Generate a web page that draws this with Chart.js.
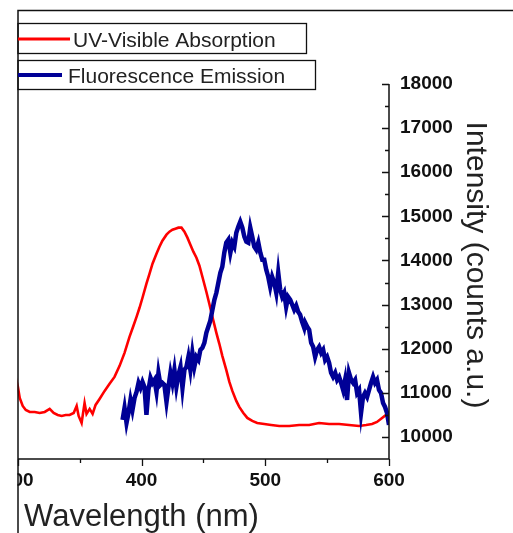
<!DOCTYPE html>
<html>
<head>
<meta charset="utf-8">
<script src="https://cdn.jsdelivr.net/npm/chart.js@4.4.1/dist/chart.umd.min.js"></script>
<style>
  html, body { margin: 0; padding: 0; background: #fff; }
  #wrap { position: relative; width: 513px; height: 533px; overflow: hidden; }
  #spectra { position: absolute; left: -120px; top: 0; }
</style>
</head>
<body>
<div id="wrap">
  <canvas id="spectra" width="633" height="533"></canvas>
</div>
<script>
// UV-Visible absorption (red) in right-axis units
const uvWavelength = [298.4, 300.0, 301.6, 304.0, 306.5, 309.7, 313.7, 317.7, 321.8, 325.8,
  329.0, 332.3, 335.5, 338.7, 341.9, 345.2, 347.6, 349.2, 351.6, 354.0,
  355.6, 358.1, 360.5, 362.9, 366.1, 370.2, 374.2, 378.2, 382.3, 386.3,
  390.3, 393.5, 396.0, 398.4, 400.8, 404.0, 406.5, 408.9, 412.1, 414.5,
  416.9, 420.2, 422.6, 425.0, 427.4, 429.8, 432.3, 434.7, 437.1, 439.5,
  441.9, 444.4, 446.8, 449.2, 452.4, 454.8, 457.3, 460.5, 462.9, 465.3,
  468.5, 471.0, 473.4, 476.6, 479.0, 482.3, 485.5, 489.5, 493.5, 499.2,
  504.8, 511.3, 519.4, 527.4, 535.5, 543.5, 551.6, 559.7, 567.7, 575.8,
  581.5, 586.3, 590.3, 594.4, 597.6, 600.0];
const uvIntensity = [11339, 11157, 10885, 10703, 10612, 10567, 10567, 10544, 10567, 10635,
  10544, 10499, 10476, 10499, 10499, 10544, 10703, 10476, 10317, 10771,
  10522, 10635, 10522, 10726, 10862, 11044, 11203, 11361, 11611, 11906,
  12269, 12519, 12723, 12928, 13155, 13473, 13700, 13927, 14154, 14312,
  14449, 14585, 14653, 14698, 14721, 14744, 14744, 14653, 14517, 14358,
  14199, 14063, 13881, 13631, 13291, 13019, 12723, 12360, 12111, 11838,
  11520, 11248, 11044, 10817, 10680, 10544, 10431, 10363, 10317, 10295,
  10272, 10249, 10249, 10272, 10272, 10317, 10295, 10295, 10272, 10249,
  10272, 10295, 10340, 10431, 10499, 10544];

// Fluorescence emission (blue)
const flWavelength = [384.7, 386.3, 387.9, 389.5, 391.1, 392.7, 394.4, 396.0, 397.6, 399.2,
  400.8, 402.4, 404.0, 405.6, 407.3, 408.9, 410.5, 412.1, 413.7, 415.3,
  416.9, 418.5, 420.2, 421.8, 423.4, 425.0, 426.6, 428.2, 429.8, 431.5,
  433.1, 434.7, 436.3, 437.9, 439.5, 441.1, 442.7, 444.4, 446.0, 447.6,
  449.2, 450.8, 452.4, 454.0, 455.6, 457.3, 458.9, 460.5, 462.1, 463.7,
  465.3, 466.9, 468.5, 470.2, 471.8, 473.4, 475.0, 476.6, 478.2, 479.8,
  481.5, 483.1, 484.7, 486.3, 487.9, 489.5, 491.1, 492.7, 494.4, 496.0,
  497.6, 499.2, 500.8, 502.4, 504.0, 505.6, 507.3, 508.9, 510.5, 512.1,
  513.7, 515.3, 516.9, 518.5, 520.2, 521.8, 523.4, 525.0, 526.6, 528.2,
  529.8, 531.5, 532.3, 533.9, 535.5, 537.1, 538.7, 540.3, 541.9, 543.5,
  545.2, 546.8, 548.4, 550.0, 551.6, 553.2, 554.8, 556.5, 558.1, 559.7,
  561.3, 562.9, 564.5, 566.1, 567.7, 569.4, 571.0, 572.6, 574.2, 575.8,
  577.4, 579.0, 580.6, 582.3, 583.9, 585.5, 587.1, 588.7, 590.3, 591.9,
  593.5, 595.2, 596.8, 598.4, 600.0];
const flIntensity = [10385, 10658, 10317, 10544, 10839, 10612, 10885, 11021, 11225, 11112,
  11248, 11134, 10499, 11066, 11339, 11225, 11293, 11021, 11452, 11180,
  11225, 11180, 10794, 11134, 11452, 11225, 11520, 11134, 11407, 11588,
  11112, 11520, 11588, 11815, 11520, 11906, 11588, 11815, 11747, 11974,
  12020, 12133, 12360, 12496, 12633, 12882, 13109, 13268, 13495, 13722,
  13858, 14176, 14403, 14471, 14176, 14403, 14312, 14630, 14766, 14880,
  14744, 14539, 14426, 14403, 14744, 14539, 14312, 14244, 14403, 14176,
  14017, 14017, 13790, 13631, 13404, 13631, 13495, 13268, 13722, 13336,
  13177, 13268, 12950, 13177, 13109, 12996, 12882, 12973, 12837, 12769,
  12610, 12473, 12587, 12496, 12428, 12133, 12042, 11815, 11974, 12042,
  11906, 11974, 11747, 11815, 11679, 11452, 11361, 11452, 11293, 11361,
  11225, 11066, 11293, 10839, 11452, 11293, 11225, 11293, 10998, 11066,
  10544, 10907, 10998, 10907, 11066, 11225, 11361, 11225, 11293, 11066,
  10998, 10771, 10680, 10544, 10272];

const xTicks = [200, 300, 400, 500, 600];
const xMinorTicks = [350, 450, 550];
const yTicks = [10000, 11000, 12000, 13000, 14000, 15000, 16000, 17000, 18000];
const yMinorTicks = [10500, 11500, 12500, 13500, 14500, 15500, 16500, 17500];
const yTitle = 'Intensity (counts a.u.)';

const toPoints = (xs, ys) => xs.map((v, i) => ({ x: v, y: ys[i] }));

// crop frame, axis lines, inward/outward ticks, y title and the boxed legend
const frame = {
  id: 'frame',
  beforeDraw(chart) {
    const ctx = chart.ctx;
    ctx.save();
    ctx.fillStyle = '#fff';
    ctx.fillRect(0, 0, chart.width, chart.height);
    ctx.restore();
  },
  afterDraw(chart) {
    const { ctx, chartArea: a, scales } = chart;
    const x = scales.x, y = scales.y;
    const edge = 138;
    ctx.save();
    ctx.fillStyle = '#fff';
    ctx.fillRect(0, 0, edge - 0.5, chart.height);

    ctx.strokeStyle = '#111';
    ctx.lineWidth = 1.5;
    ctx.beginPath();
    ctx.moveTo(edge, chart.height);
    ctx.lineTo(edge, 10.5);
    ctx.lineTo(chart.width, 10.5);
    ctx.moveTo(edge, a.bottom);
    ctx.lineTo(a.right, a.bottom);
    ctx.moveTo(a.right, a.top);
    ctx.lineTo(a.right, a.bottom);
    ctx.stroke();

    ctx.lineWidth = 1.3;
    ctx.beginPath();
    xTicks.concat(xMinorTicks).forEach(v => {
      if (v < 300) return;
      const px = Math.round(x.getPixelForValue(v)) + 0.5;
      const len = xTicks.includes(v) ? 7 : 4;
      ctx.moveTo(px, a.bottom);
      ctx.lineTo(px, a.bottom + len);
    });
    yTicks.concat(yMinorTicks).forEach(v => {
      const py = Math.round(y.getPixelForValue(v)) + 0.5;
      const len = yTicks.includes(v) ? 7 : 4;
      ctx.moveTo(a.right, py);
      ctx.lineTo(a.right - len, py);
    });
    ctx.stroke();

    // right axis title, rotated clockwise
    ctx.save();
    ctx.translate(595, 265);
    ctx.rotate(Math.PI / 2);
    ctx.fillStyle = '#222';
    ctx.font = '30px "Liberation Sans", Arial, sans-serif';
    ctx.textAlign = 'center';
    ctx.textBaseline = 'middle';
    ctx.fillText(yTitle, 0, 0);
    ctx.restore();

    // legend
    const boxes = [
      { x0: edge, y0: 23.5, x1: 426.5, y1: 53.5, lineEnd: 190, ly: 39, tx: 193, ty: 46.5 },
      { x0: edge, y0: 60.5, x1: 435.5, y1: 89.5, lineEnd: 182, ly: 75, tx: 188, ty: 82.5 }
    ];
    const sets = [chart.data.datasets[1], chart.data.datasets[0]];
    boxes.forEach((b, i) => {
      const ds = sets[i];
      ctx.strokeStyle = '#111';
      ctx.lineWidth = 1.3;
      ctx.strokeRect(b.x0, b.y0, b.x1 - b.x0, b.y1 - b.y0);
      ctx.strokeStyle = ds.borderColor;
      ctx.lineWidth = i === 0 ? 3 : 4;
      ctx.beginPath();
      ctx.moveTo(b.x0, b.ly);
      ctx.lineTo(b.lineEnd, b.ly);
      ctx.stroke();
      ctx.fillStyle = '#222';
      ctx.font = '21px "Liberation Sans", Arial, sans-serif';
      ctx.textBaseline = 'alphabetic';
      ctx.textAlign = 'left';
      ctx.fillText(ds.label, b.tx, b.ty);
    });
    ctx.restore();
  }
};

new Chart(document.getElementById('spectra'), {
  type: 'line',
  data: {
    datasets: [
      {
        label: 'Fluorescence Emission',
        data: toPoints(flWavelength, flIntensity),
        borderColor: '#000096',
        borderWidth: 4.5,
        pointRadius: 0,
        tension: 0,
        order: 0
      },
      {
        label: 'UV-Visible Absorption',
        data: toPoints(uvWavelength, uvIntensity),
        borderColor: '#ff0000',
        borderWidth: 2.6,
        pointRadius: 0,
        tension: 0,
        order: 1
      }
    ]
  },
  options: {
    responsive: false,
    animation: false,
    devicePixelRatio: 1,
    layout: { padding: { left: 14, top: 84, right: 0, bottom: 0 } },
    plugins: { legend: { display: false }, tooltip: { enabled: false } },
    scales: {
      x: {
        type: 'linear',
        position: 'bottom',
        min: 200,
        max: 600,
        afterBuildTicks: s => { s.ticks = xTicks.map(v => ({ value: v })); },
        afterFit: s => { s.height = 74; s.paddingLeft = 0; s.paddingRight = 0; },
        grid: { display: false, drawTicks: false },
        border: { display: false },
        ticks: {
          color: '#111',
          padding: 10,
          callback: v => String(v),
          font: { family: '"Liberation Sans", Arial, sans-serif', size: 19, weight: 'bold' }
        },
        title: {
          display: true,
          text: 'Wavelength (nm)',
          color: '#222',
          padding: { top: 0, bottom: 0 },
          font: { family: '"Liberation Sans", Arial, sans-serif', size: 31, lineHeight: 1 }
        }
      },
      y: {
        type: 'linear',
        position: 'right',
        min: 9500,
        max: 18000,
        afterBuildTicks: s => { s.ticks = yTicks.map(v => ({ value: v })); },
        afterFit: s => { s.width = 124; s.paddingTop = 0; s.paddingBottom = 0; },
        grid: { display: false, drawTicks: false },
        border: { display: false },
        ticks: {
          color: '#111',
          padding: 11,
          callback: v => String(v),
          font: { family: '"Liberation Sans", Arial, sans-serif', size: 19, weight: 'bold' }
        },
        title: { display: false }
      }
    }
  },
  plugins: [frame]
});
</script>
</body>
</html>
